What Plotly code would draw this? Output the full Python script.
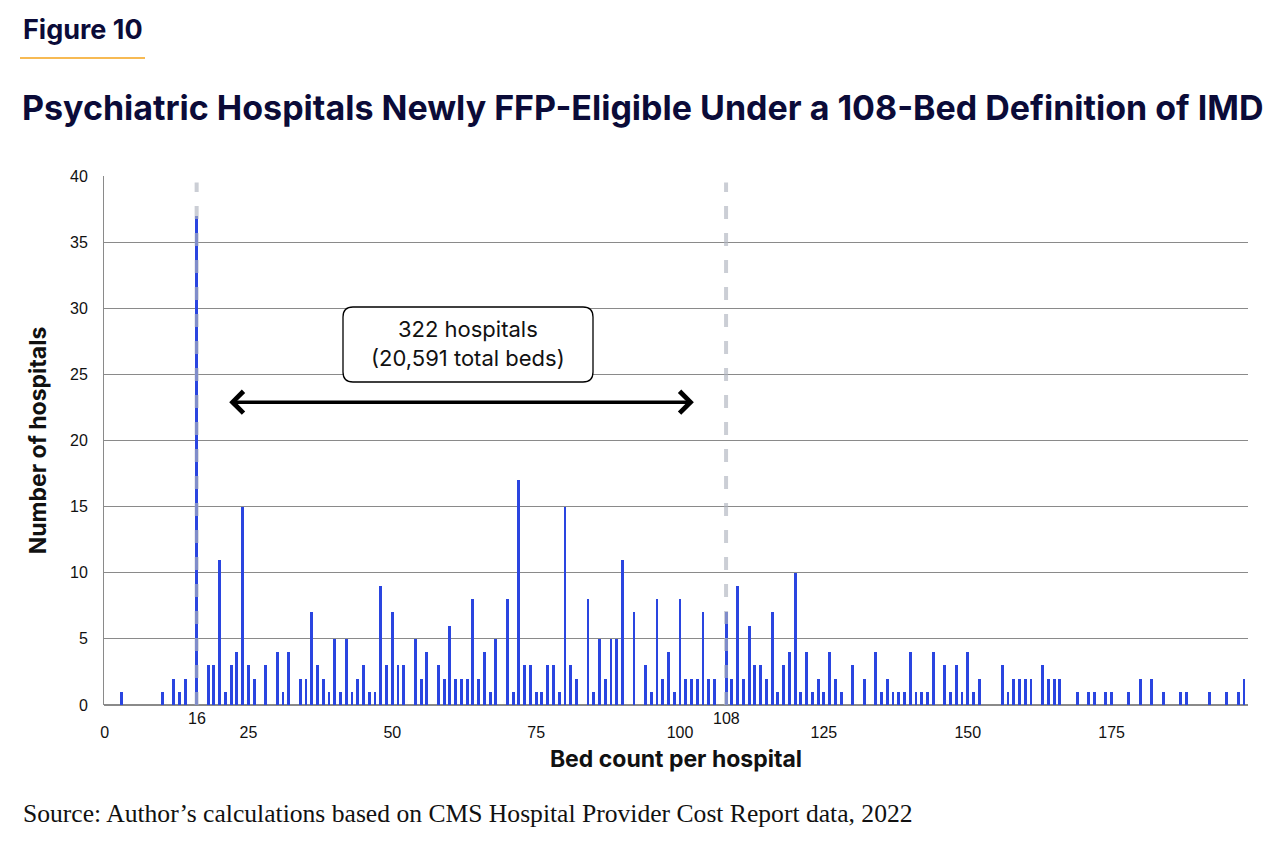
import plotly.graph_objects as go

bed_counts = [3, 10, 12, 13, 14, 16, 18, 19, 20, 21, 22, 23, 24, 25, 26, 28, 30, 31, 32,
              34, 35, 36, 37, 38, 39, 40, 41, 42, 43, 44, 45, 46, 47, 48, 49, 50, 51, 52,
              54, 55, 56, 58, 59, 60, 61, 62, 63, 64, 65, 66, 67, 68, 70, 71, 72, 73, 74,
              75, 76, 77, 78, 79, 80, 81, 82, 84, 85, 86, 87, 88, 89, 90, 92, 94, 95, 96,
              97, 98, 99, 100, 101, 102, 103, 104, 105, 106, 108, 109, 110, 111, 112, 113,
              114, 115, 116, 117, 118, 119, 120, 121, 122, 123, 124, 125, 126, 127, 128,
              130, 132, 134, 135, 136, 137, 138, 139, 140, 141, 142, 143, 144, 146, 147,
              148, 149, 150, 151, 152, 156, 157, 158, 159, 160, 161, 163, 164, 165, 166,
              169, 171, 172, 174, 175, 178, 180, 182, 184, 187, 188, 192, 195, 197, 198]
hospitals = [1, 1, 2, 1, 2, 37, 3, 3, 11, 1, 3, 4, 15, 3, 2, 3, 4, 1, 4,
             2, 2, 7, 3, 2, 1, 5, 1, 5, 1, 2, 3, 1, 1, 9, 3, 7, 3, 3,
             5, 2, 4, 3, 2, 6, 2, 2, 2, 8, 2, 4, 1, 5, 8, 1, 17, 3, 3,
             1, 1, 3, 3, 1, 15, 3, 2, 8, 1, 5, 2, 5, 5, 11, 7, 3, 1, 8,
             2, 4, 1, 8, 2, 2, 2, 7, 2, 2, 7, 2, 9, 2, 6, 3,
             3, 2, 7, 1, 3, 4, 10, 1, 4, 1, 2, 1, 4, 2, 1,
             3, 2, 4, 1, 2, 1, 1, 1, 4, 1, 1, 1, 4, 3, 1,
             3, 1, 4, 1, 2, 3, 1, 2, 2, 2, 2, 3, 2, 2, 2,
             1, 1, 1, 1, 1, 1, 2, 2, 1, 1, 1, 1, 1, 1, 2]
x_ticks = [0, 25, 50, 75, 100, 125, 150, 175]
y_ticks = [0, 5, 10, 15, 20, 25, 30, 35, 40]
thresholds = [16, 108]
arrow_span = [21.4, 102.4]
arrow_level = 22.9
box_text = "322 hospitals<br>(20,591 total beds)"

NAVY = "#0b0b38"
BLUE = "#2a45e0"

W, H = 1285, 847
L, R, T, B = 104, 37, 176, 142
PW, PH = W - L - R, H - T - B


def px(xp):
    return (xp - L) / PW


def py(yp):
    return (H - B - yp) / PH


fig = go.Figure()
fig.add_trace(go.Bar(x=bed_counts, y=hospitals, width=0.5,
                     marker=dict(color=BLUE, line=dict(width=0)),
                     hoverinfo="x+y", showlegend=False))

for t in thresholds:
    fig.add_shape(type="line", xref="x", yref="y", x0=t, x1=t, y0=0, y1=39.5,
                  line=dict(color="rgba(175,180,190,0.65)", width=4, dash="13px,14px"),
                  layer="above")
    fig.add_annotation(x=t, y=0, xref="x", yref="y", text=str(t), showarrow=False,
                       yanchor="top", xanchor="center", yshift=-3,
                       font=dict(family="Liberation Sans, Arial", size=16, color="#111"))

# double-headed arrow
fig.add_annotation(x=arrow_span[1], y=arrow_level, ax=arrow_span[0], ay=arrow_level,
                   xref="x", yref="y", axref="x", ayref="y", text="",
                   showarrow=True, arrowhead=4, startarrowhead=4, arrowside="end+start",
                   arrowsize=1.2, startarrowsize=1.2, arrowwidth=3.5, arrowcolor="#000")

# rounded text box
bx0, bx1, by0, by1, rr = 343, 593, 307, 382, 10
path = (f"M {px(bx0 + rr)} {py(by0)} L {px(bx1 - rr)} {py(by0)} "
        f"Q {px(bx1)} {py(by0)} {px(bx1)} {py(by0 + rr)} "
        f"L {px(bx1)} {py(by1 - rr)} Q {px(bx1)} {py(by1)} {px(bx1 - rr)} {py(by1)} "
        f"L {px(bx0 + rr)} {py(by1)} Q {px(bx0)} {py(by1)} {px(bx0)} {py(by1 - rr)} "
        f"L {px(bx0)} {py(by0 + rr)} Q {px(bx0)} {py(by0)} {px(bx0 + rr)} {py(by0)} Z")
fig.add_shape(type="path", xref="paper", yref="paper", path=path,
              line=dict(color="#000", width=1.3), fillcolor="white", layer="above")
fig.add_annotation(x=px(468), y=py(343), xref="paper", yref="paper",
                   text=box_text, showarrow=False, xanchor="center", yanchor="middle",
                   align="center",
                   font=dict(family="Inter", size=22, color="#111"))

# headers
fig.add_annotation(x=px(21), y=py(29), xref="paper", yref="paper", xanchor="left",
                   yanchor="middle", showarrow=False, text="<b>Figure 10</b>",
                   font=dict(family="Inter", size=27, color=NAVY))
fig.add_shape(type="line", xref="paper", yref="paper",
              x0=px(20), x1=px(145), y0=py(58), y1=py(58),
              line=dict(color="#f5a31a", width=1.5))
fig.add_annotation(x=px(20), y=py(107), xref="paper", yref="paper", xanchor="left",
                   yanchor="middle", showarrow=False,
                   text="<b>Psychiatric Hospitals Newly FFP-Eligible Under a 108-Bed Definition of IMD</b>",
                   font=dict(family="Inter", size=34, color=NAVY))
fig.add_annotation(x=px(21), y=py(813), xref="paper", yref="paper", xanchor="left",
                   yanchor="middle", showarrow=False,
                   text="Source: Author’s calculations based on CMS Hospital Provider Cost Report data, 2022",
                   font=dict(family="Liberation Serif", size=25.6, color="#111"))

fig.update_layout(
    width=W, height=H,
    margin=dict(l=L, r=R, t=T, b=B),
    plot_bgcolor="white", paper_bgcolor="white",
    bargap=0,
    xaxis=dict(range=[-0.1, 198.7], tickvals=x_ticks, showgrid=False, zeroline=False,
               showline=False, ticks="", ticklabelstandoff=16,
               tickfont=dict(family="Liberation Sans, Arial", size=16, color="#111"),
               title=dict(text="<b>Bed count per hospital</b>", standoff=10,
                          font=dict(family="Inter", size=23, color="#111"))),
    yaxis=dict(range=[0, 40], tickvals=y_ticks, showgrid=True, gridcolor="#8a8a8a",
               gridwidth=1, zeroline=True, zerolinecolor="#8a8a8a", zerolinewidth=1.5,
               showline=True, linecolor="#8a8a8a", linewidth=1, ticks="",
               ticklabelstandoff=12,
               tickfont=dict(family="Liberation Sans, Arial", size=16, color="#111"),
               title=dict(text="<b>Number of hospitals</b>", standoff=16,
                          font=dict(family="Inter", size=23, color="#111"))),
)

fig.write_html("out.html", config={"displayModeBar": False},
               post_script="document.body.style.margin='0';")
